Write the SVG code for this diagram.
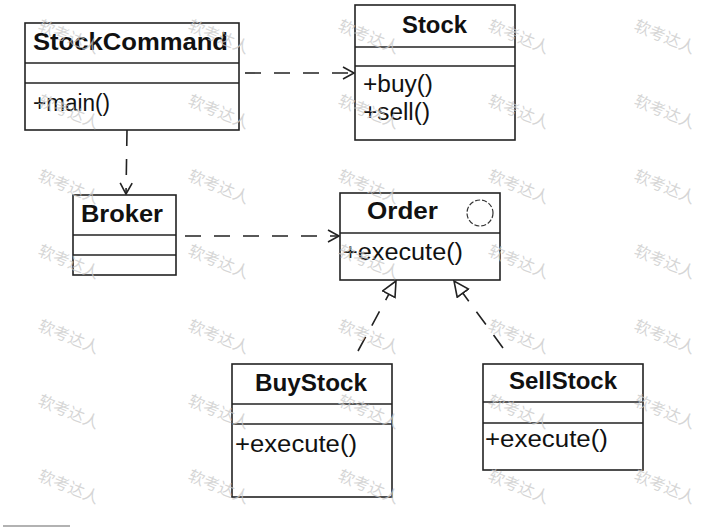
<svg xmlns="http://www.w3.org/2000/svg" width="701" height="527" viewBox="0 0 701 527">
<style>
.box{fill:#fff;stroke:#222;stroke-width:1.6}
.div{stroke:#222;stroke-width:1.4}
.title{font-family:"Liberation Sans",Arial,sans-serif;font-weight:bold;font-size:24px;fill:#111}
.mem{font-family:"Liberation Sans",Arial,sans-serif;font-size:23px;fill:#111}
.dep{fill:none;stroke:#222;stroke-width:1.6;stroke-dasharray:16 13}
.wm{font-family:"Noto Sans CJK SC",sans-serif;font-size:16px;fill:#c8c8c8;fill-opacity:0.75}
</style>
<defs>
<marker id="open" markerWidth="14" markerHeight="14" refX="12" refY="7" orient="auto" markerUnits="userSpaceOnUse">
<path d="M1,1 L12,7 L1,13" fill="none" stroke="#222" stroke-width="1.6"/>
</marker>
<marker id="tri" markerWidth="18" markerHeight="18" refX="16" refY="8" orient="auto" markerUnits="userSpaceOnUse">
<path d="M1,1 L16,8 L1,15 Z" fill="#fff" stroke="#222" stroke-width="1.6"/>
</marker>
</defs>
<rect width="701" height="527" fill="#fff"/>

<g id="connectors">
<line class="dep" x1="245" y1="73" x2="354" y2="73" marker-end="url(#open)"/>
<line class="dep" x1="127" y1="130" x2="126" y2="194" stroke-dasharray="18 25" marker-end="url(#open)"/>
<line class="dep" x1="185" y1="236" x2="339" y2="236" marker-end="url(#open)"/>
<line class="dep" x1="358" y1="351" x2="396" y2="281" stroke-dasharray="12 30" marker-end="url(#tri)"/>
<line class="dep" x1="503" y1="348" x2="454" y2="281" stroke-dasharray="14 20" marker-end="url(#tri)"/>
</g>

<g id="StockCommand">
<rect class="box" x="25" y="23" width="214" height="107"/>
<line class="div" x1="25" y1="63" x2="239" y2="63"/>
<line class="div" x1="25" y1="83" x2="239" y2="83"/>
<text class="title" x="33" y="50" textLength="195" lengthAdjust="spacingAndGlyphs">StockCommand</text>
<text class="mem" x="33" y="111" textLength="77" lengthAdjust="spacingAndGlyphs">+main()</text>
</g>

<g id="Stock">
<rect class="box" x="355" y="5" width="160" height="135"/>
<line class="div" x1="355" y1="47" x2="515" y2="47"/>
<line class="div" x1="355" y1="66" x2="515" y2="66"/>
<text class="title" x="402" y="33" textLength="65" lengthAdjust="spacingAndGlyphs">Stock</text>
<text class="mem" x="363" y="92" textLength="70" lengthAdjust="spacingAndGlyphs">+buy()</text>
<text class="mem" x="363" y="120" textLength="67" lengthAdjust="spacingAndGlyphs">+sell()</text>
</g>

<g id="Broker">
<rect class="box" x="73" y="195" width="103" height="80"/>
<line class="div" x1="73" y1="235" x2="176" y2="235"/>
<line class="div" x1="73" y1="255" x2="176" y2="255"/>
<text class="title" x="81" y="222" textLength="82" lengthAdjust="spacingAndGlyphs">Broker</text>
</g>

<g id="Order">
<rect class="box" x="340" y="193" width="160" height="87"/>
<line class="div" x1="340" y1="233" x2="500" y2="233"/>
<text class="title" x="367" y="219" textLength="71" lengthAdjust="spacingAndGlyphs">Order</text>
<circle cx="480" cy="213" r="13" fill="none" stroke="#333" stroke-width="1.2" stroke-dasharray="5 2"/>
<text class="mem" x="343" y="260" textLength="120" lengthAdjust="spacingAndGlyphs">+execute()</text>
</g>

<g id="BuyStock">
<rect class="box" x="232" y="364" width="160" height="133"/>
<line class="div" x1="232" y1="404" x2="392" y2="404"/>
<line class="div" x1="232" y1="424" x2="392" y2="424"/>
<text class="title" x="255" y="391" textLength="112" lengthAdjust="spacingAndGlyphs">BuyStock</text>
<text class="mem" x="235" y="452" textLength="122" lengthAdjust="spacingAndGlyphs">+execute()</text>
</g>

<g id="SellStock">
<rect class="box" x="483" y="364" width="160" height="106"/>
<line class="div" x1="483" y1="402" x2="643" y2="402"/>
<line class="div" x1="483" y1="423" x2="643" y2="423"/>
<text class="title" x="509" y="389" textLength="108" lengthAdjust="spacingAndGlyphs">SellStock</text>
<text class="mem" x="485" y="447" textLength="123" lengthAdjust="spacingAndGlyphs">+execute()</text>
</g>

<line x1="3" y1="526" x2="70" y2="526" stroke="#999" stroke-width="1.5"/>

<g id="watermarks">
<text class="wm" transform="translate(37,30) rotate(22)">软考达人</text>
<text class="wm" transform="translate(187,30) rotate(22)">软考达人</text>
<text class="wm" transform="translate(337,30) rotate(22)">软考达人</text>
<text class="wm" transform="translate(487,30) rotate(22)">软考达人</text>
<text class="wm" transform="translate(633,30) rotate(22)">软考达人</text>
<text class="wm" transform="translate(37,105) rotate(22)">软考达人</text>
<text class="wm" transform="translate(187,105) rotate(22)">软考达人</text>
<text class="wm" transform="translate(337,105) rotate(22)">软考达人</text>
<text class="wm" transform="translate(487,105) rotate(22)">软考达人</text>
<text class="wm" transform="translate(633,105) rotate(22)">软考达人</text>
<text class="wm" transform="translate(37,180) rotate(22)">软考达人</text>
<text class="wm" transform="translate(187,180) rotate(22)">软考达人</text>
<text class="wm" transform="translate(337,180) rotate(22)">软考达人</text>
<text class="wm" transform="translate(487,180) rotate(22)">软考达人</text>
<text class="wm" transform="translate(633,180) rotate(22)">软考达人</text>
<text class="wm" transform="translate(37,255) rotate(22)">软考达人</text>
<text class="wm" transform="translate(187,255) rotate(22)">软考达人</text>
<text class="wm" transform="translate(337,255) rotate(22)">软考达人</text>
<text class="wm" transform="translate(487,255) rotate(22)">软考达人</text>
<text class="wm" transform="translate(633,255) rotate(22)">软考达人</text>
<text class="wm" transform="translate(37,330) rotate(22)">软考达人</text>
<text class="wm" transform="translate(187,330) rotate(22)">软考达人</text>
<text class="wm" transform="translate(337,330) rotate(22)">软考达人</text>
<text class="wm" transform="translate(487,330) rotate(22)">软考达人</text>
<text class="wm" transform="translate(633,330) rotate(22)">软考达人</text>
<text class="wm" transform="translate(37,405) rotate(22)">软考达人</text>
<text class="wm" transform="translate(187,405) rotate(22)">软考达人</text>
<text class="wm" transform="translate(337,405) rotate(22)">软考达人</text>
<text class="wm" transform="translate(487,405) rotate(22)">软考达人</text>
<text class="wm" transform="translate(633,405) rotate(22)">软考达人</text>
<text class="wm" transform="translate(37,480) rotate(22)">软考达人</text>
<text class="wm" transform="translate(187,480) rotate(22)">软考达人</text>
<text class="wm" transform="translate(337,480) rotate(22)">软考达人</text>
<text class="wm" transform="translate(487,480) rotate(22)">软考达人</text>
<text class="wm" transform="translate(633,480) rotate(22)">软考达人</text>
</g>
</svg>
